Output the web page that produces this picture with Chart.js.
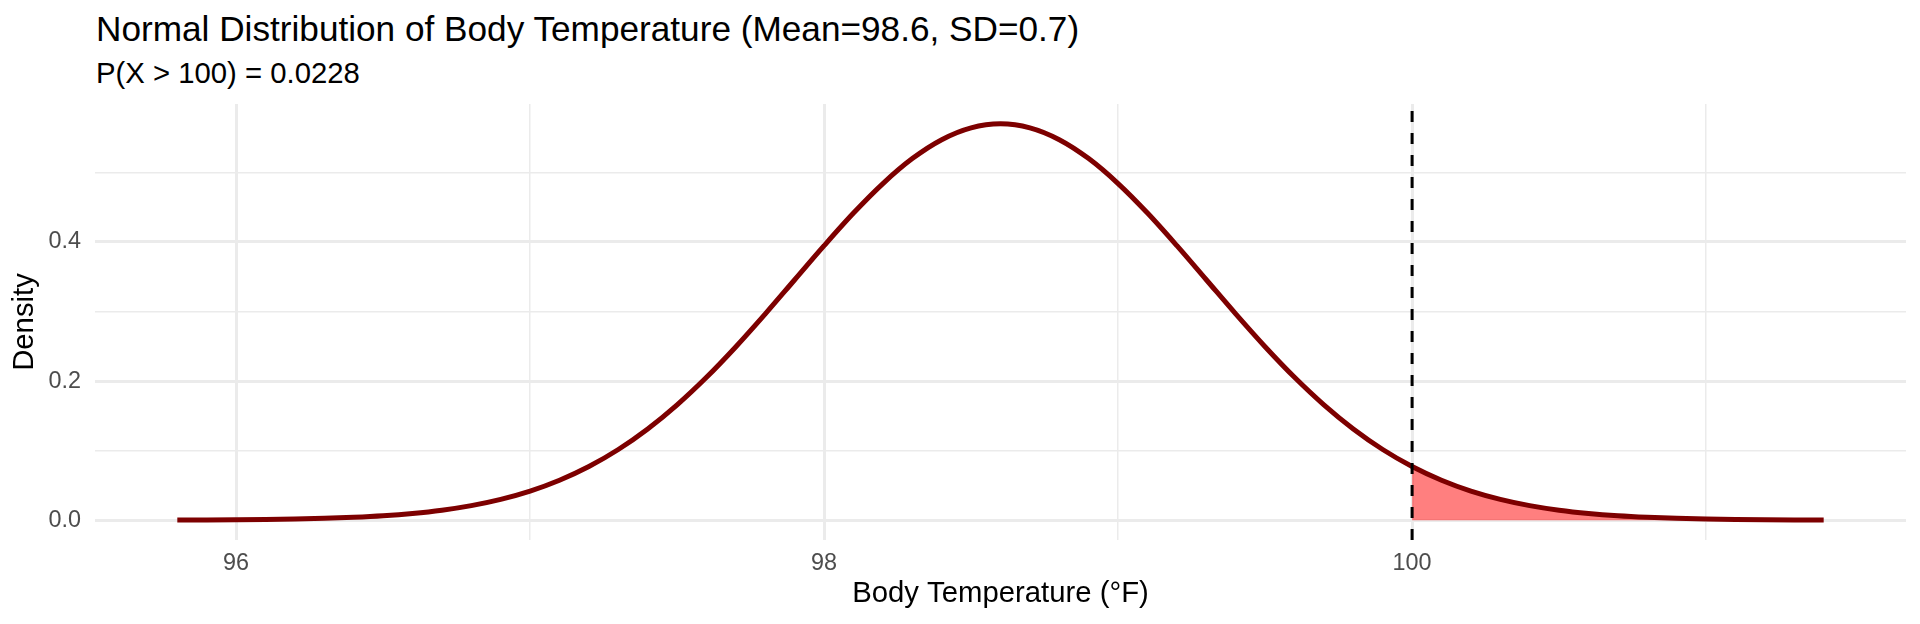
<!DOCTYPE html>
<html>
<head>
<meta charset="utf-8">
<script src="https://cdn.jsdelivr.net/npm/chart.js@4.4.0/dist/chart.umd.min.js"></script>
<style>
	html, body { margin: 0; padding: 0; background: #ffffff; }
	#wrap { position: relative; width: 1920px; height: 624px; }
	#grafico { position: absolute; left: 0; top: 0; }
	.titulo { position: absolute; left: 96px; font-family: "Liberation Sans", Arial, sans-serif; color: #000000; line-height: 1; white-space: nowrap; }
	#titulo-principal { top: 11px; font-size: 35.2px; }
	#subtitulo { top: 58px; font-size: 29.3px; }
</style>
</head>
<body>
<div id="wrap">
	<div class="titulo" id="titulo-principal">Normal Distribution of Body Temperature (Mean=98.6, SD=0.7)</div>
	<div class="titulo" id="subtitulo">P(X &gt; 100) = 0.0228</div>
	<canvas id="grafico" width="1920" height="624"></canvas>
</div>
<script>
// temperatura (°F) e densidade
const temperaturas = [
	95.8, 95.9, 96.0, 96.1, 96.2, 96.3, 96.4, 96.5, 96.6, 96.7,
	96.8, 96.9, 97.0, 97.1, 97.2, 97.3, 97.4, 97.5, 97.6, 97.7,
	97.8, 97.9, 98.0, 98.1, 98.2, 98.3, 98.4, 98.5, 98.6, 98.7,
	98.8, 98.9, 99.0, 99.1, 99.2, 99.3, 99.4, 99.5, 99.6, 99.7,
	99.8, 99.9, 100.0, 100.1, 100.2, 100.3, 100.4, 100.5, 100.6, 100.7,
	100.8, 100.9, 101.0, 101.1, 101.2, 101.3, 101.4
];
const densidades = [
	0.0002, 0.0003, 0.0006, 0.0010, 0.0016, 0.0026, 0.0041, 0.0063, 0.0096, 0.0143,
	0.0209, 0.0299, 0.0418, 0.0574, 0.0771, 0.1016, 0.1311, 0.1658, 0.2054, 0.2494,
	0.2966, 0.3457, 0.3947, 0.4416, 0.4840, 0.5199, 0.5471, 0.5641, 0.5699, 0.5641,
	0.5471, 0.5199, 0.4840, 0.4416, 0.3947, 0.3457, 0.2966, 0.2494, 0.2054, 0.1658,
	0.1311, 0.1016, 0.0771, 0.0574, 0.0418, 0.0299, 0.0209, 0.0143, 0.0096, 0.0063,
	0.0041, 0.0026, 0.0016, 0.0010, 0.0006, 0.0003, 0.0002
];
const limiar = 100;
const xTicks = [96, 97, 98, 99, 100, 101];
const xLabels = [96, 98, 100];
const yTicks = [0, 0.1, 0.2, 0.3, 0.4, 0.5];
const yLabels = [0, 0.2, 0.4];
const xMin = 95.52, xMax = 101.68;
const yMin = -0.0285, yMax = 0.5984;

const pontosCurva = temperaturas.map((t, i) => ({ x: t, y: densidades[i] }));
const pontosCauda = pontosCurva.filter(p => p.x >= limiar);
const pontosLimiar = [{ x: limiar, y: yMin }, { x: limiar, y: yMax }];

const corGrade = '#ebebeb';
const corTexto = '#4d4d4d';
const fonte = '"Liberation Sans", Arial, sans-serif';

const ehMarcado = (lista, v) => lista.some(l => Math.abs(l - v) < 1e-6);

const ctx = document.getElementById('grafico').getContext('2d');

const grafico = new Chart(ctx, {
	type: 'line',
	data: {
		datasets: [
			{
				data: pontosLimiar,
				borderColor: '#000000',
				borderWidth: 3,
				borderDash: [11, 11],
				pointRadius: 0,
				fill: false,
				order: 0
			},
			{
				data: pontosCurva,
				borderColor: '#7d0000',
				borderWidth: 5,
				pointRadius: 0,
				cubicInterpolationMode: 'monotone',
				fill: false,
				order: 1
			},
			{
				data: pontosCauda,
				borderColor: 'rgba(0,0,0,0)',
				borderWidth: 0,
				backgroundColor: 'rgba(255, 0, 0, 0.5)',
				pointRadius: 0,
				cubicInterpolationMode: 'monotone',
				fill: { value: 0 },
				order: 2
			}
		]
	},
	options: {
		responsive: false,
		animation: false,
		devicePixelRatio: 1,
		layout: { padding: { top: 104, right: 14, bottom: 0, left: 0 } },
		scales: {
			x: {
				type: 'linear',
				min: xMin,
				max: xMax,
				afterBuildTicks: (eixo) => { eixo.ticks = xTicks.map(v => ({ value: v })); },
				afterFit: (eixo) => { eixo.height = 84; },
				border: { display: false },
				grid: {
					color: corGrade,
					drawTicks: false,
					lineWidth: (c) => ehMarcado(xLabels, c.tick.value) ? 3 : 1.5
				},
				ticks: {
					color: corTexto,
					font: { family: fonte, size: 23.4 },
					padding: 10,
					maxRotation: 0,
					autoSkip: false,
					callback: (v) => ehMarcado(xLabels, v) ? String(v) : ''
				},
				title: {
					display: true,
					text: 'Body Temperature (°F)',
					color: '#000000',
					font: { family: fonte, size: 29.3 },
					padding: { top: 0, bottom: 13 }
				}
			},
			y: {
				min: yMin,
				max: yMax,
				afterBuildTicks: (eixo) => { eixo.ticks = yTicks.map(v => ({ value: v })); },
				afterFit: (eixo) => { eixo.width = 95; },
				border: { display: false },
				grid: {
					color: corGrade,
					drawTicks: false,
					lineWidth: (c) => ehMarcado(yLabels, c.tick.value) ? 3 : 1.5
				},
				ticks: {
					color: corTexto,
					font: { family: fonte, size: 23.4 },
					padding: 14,
					autoSkip: false,
					callback: (v) => ehMarcado(yLabels, v) ? v.toFixed(1) : ''
				},
				title: {
					display: true,
					text: 'Density',
					color: '#000000',
					font: { family: fonte, size: 29.3 },
					padding: { top: 7, bottom: 0 }
				}
			}
		},
		plugins: {
			legend: { display: false },
			tooltip: { enabled: false }
		}
	}
});
</script>
</body>
</html>
